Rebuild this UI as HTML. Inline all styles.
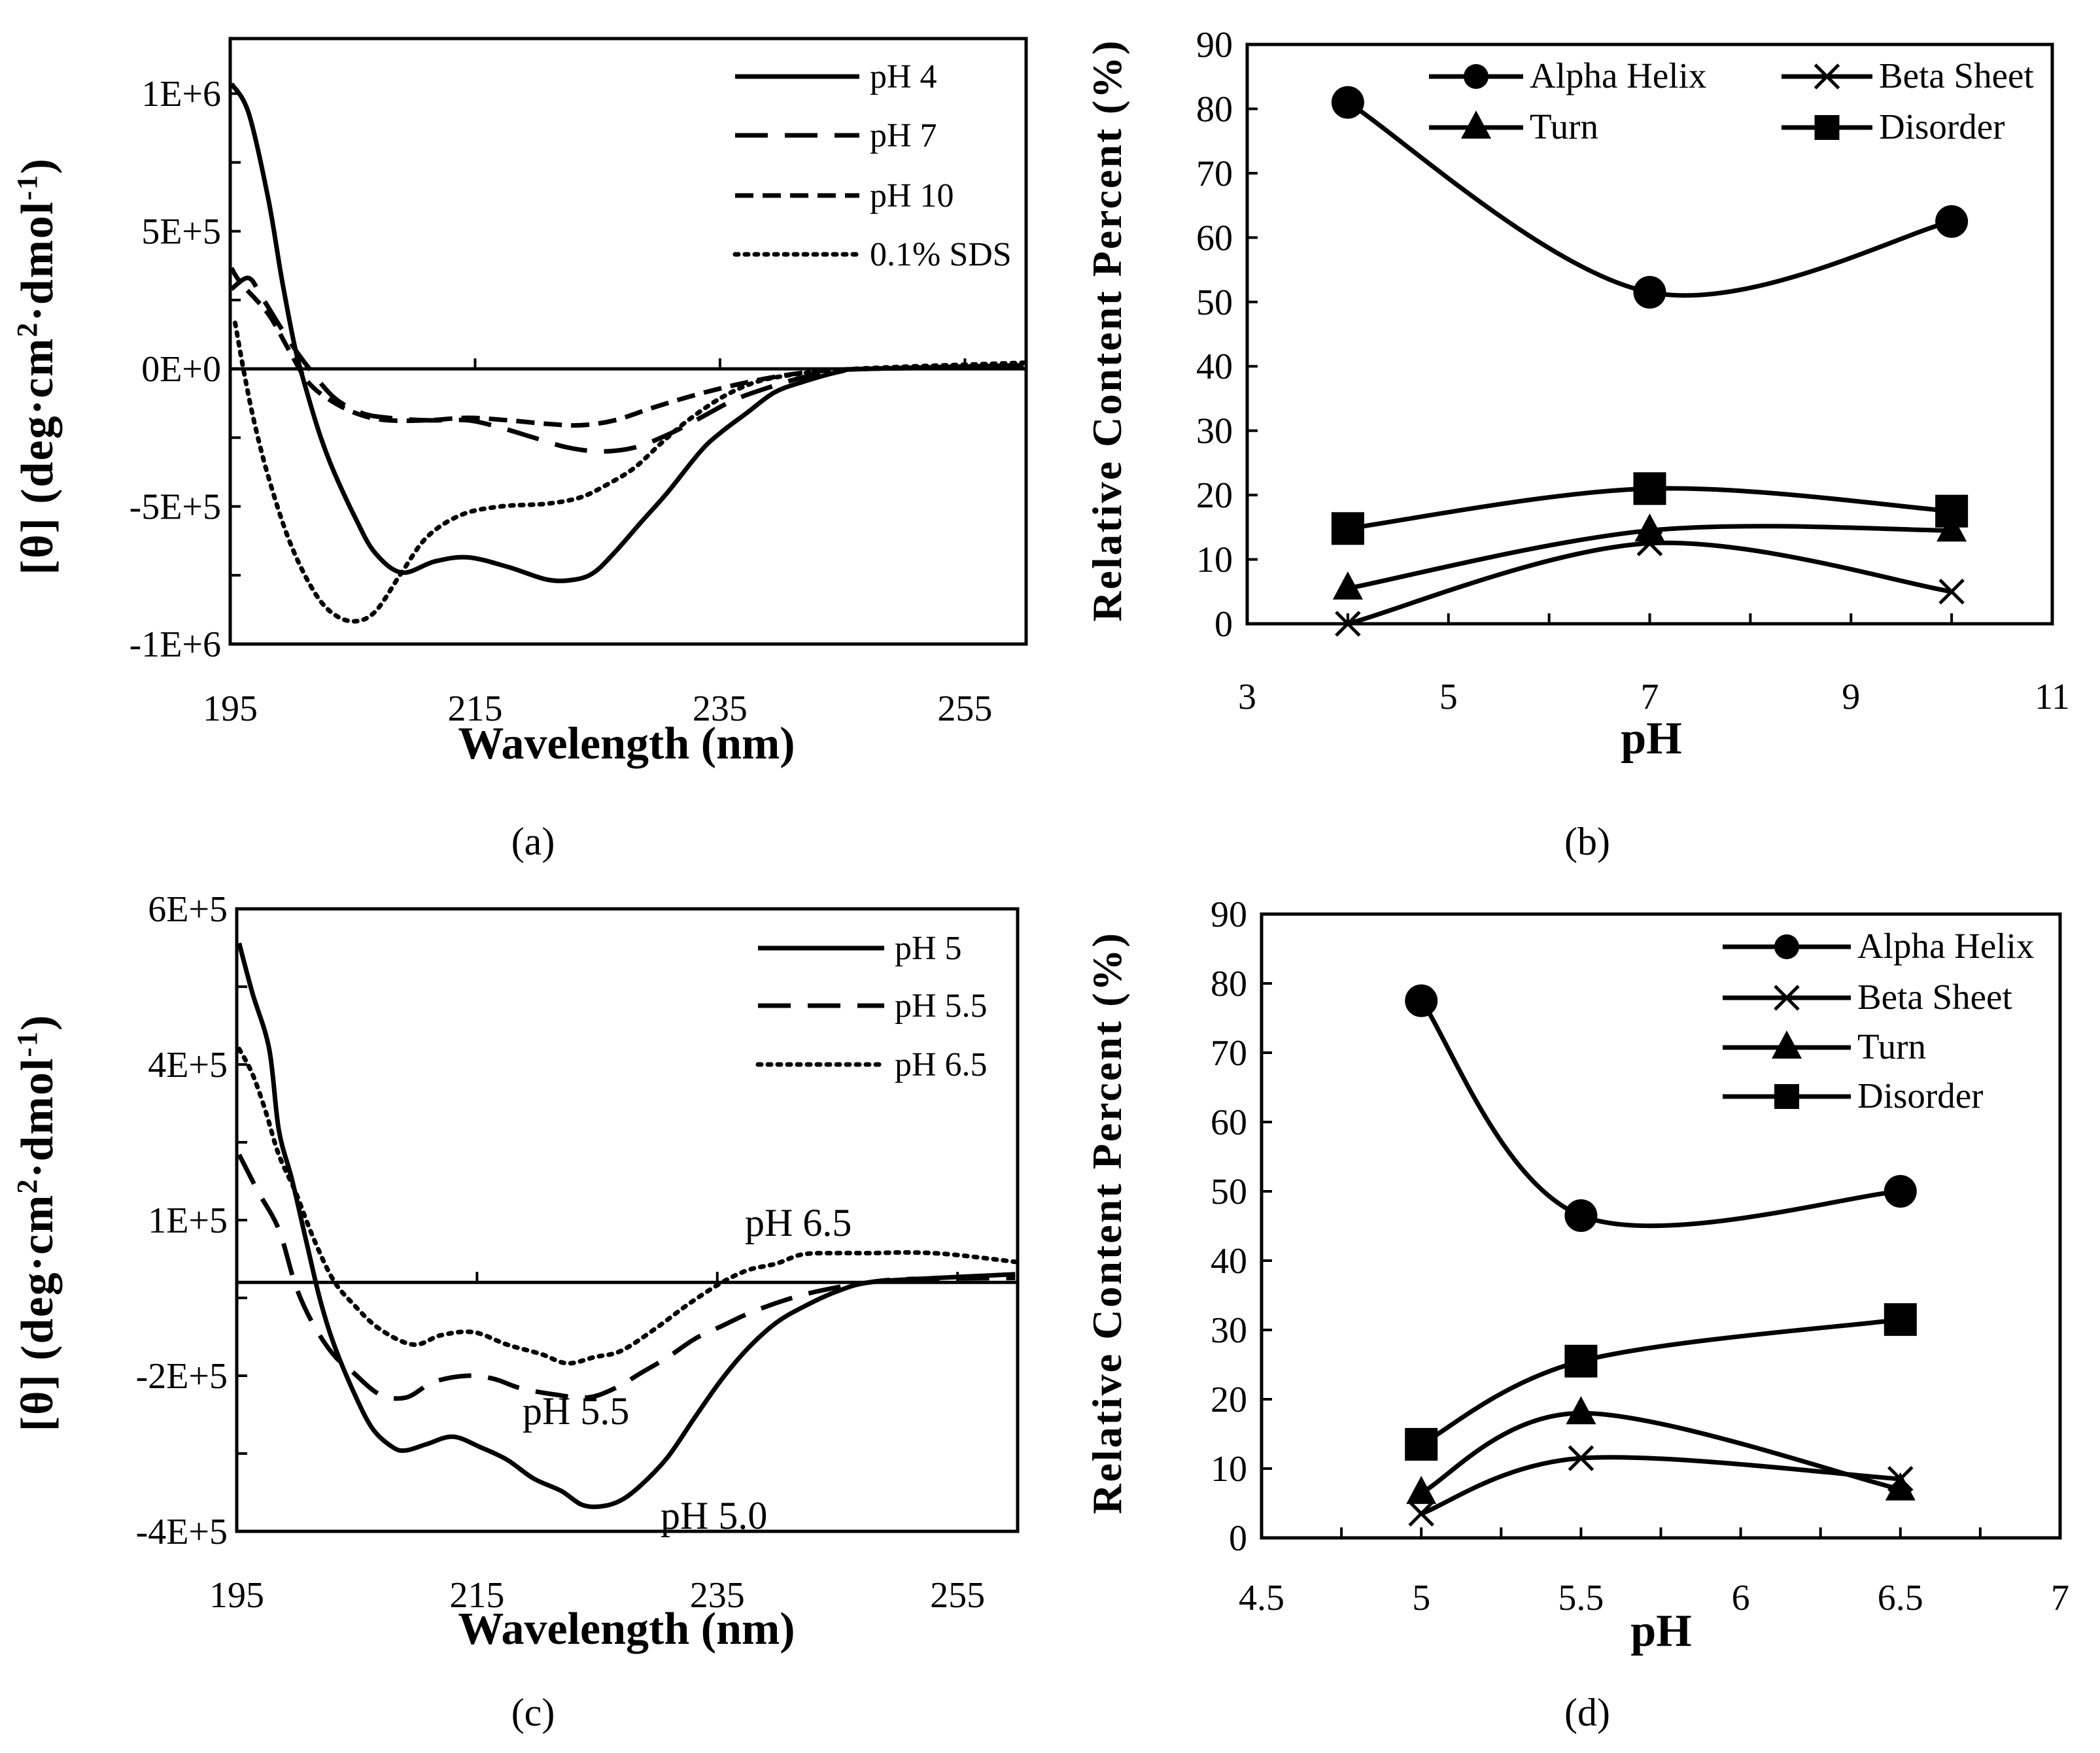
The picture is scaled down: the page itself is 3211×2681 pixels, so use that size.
<!DOCTYPE html>
<html><head><meta charset="utf-8"><style>
html,body{margin:0;padding:0;background:#fff}
svg{display:block}
text{font-family:"Liberation Serif",serif;fill:#000}
</style></head><body>
<svg id="fig" width="3211" height="2681" viewBox="0 0 3211 2681" xmlns="http://www.w3.org/2000/svg"></svg>
<script>
// ---------- Panel (a) data ----------
const aWave4=[195.1,196.5,198.1,199.2,200.3,201.4,202.4,203.5,205.2,206.8,209.0,211.7,214.4,217.7,220.9,223.1,224.7,226.4,228.5,230.7,233.4,235.1,237.2,239.4,241.6,244.8,247.0,259.8];
const aVal4=[1.036,0.93,0.62,0.33,0.076,-0.105,-0.25,-0.377,-0.54,-0.667,-0.74,-0.70,-0.685,-0.72,-0.766,-0.766,-0.74,-0.667,-0.56,-0.45,-0.30,-0.23,-0.16,-0.087,-0.05,-0.01,0,0.013];
const aWave7=[195.1,196.5,197.6,199.7,201.4,203.5,205.7,207.9,211.1,214.4,217.1,219.8,222.6,225.3,228.0,230.7,233.4,236.1,238.9,241.6,244.3,247.0,259.8];
const aVal7=[0.29,0.33,0.26,0.11,0.004,-0.105,-0.16,-0.178,-0.187,-0.187,-0.214,-0.25,-0.286,-0.30,-0.286,-0.24,-0.178,-0.114,-0.069,-0.033,-0.01,0,0.007];
const aWave10=[195.1,195.9,198.1,199.7,201.4,203.5,205.7,207.9,211.1,214.4,217.7,220.9,223.6,226.4,229.6,232.9,236.1,239.4,242.7,247.0,259.8];
const aVal10=[0.366,0.31,0.2,0.076,-0.05,-0.123,-0.168,-0.187,-0.187,-0.178,-0.187,-0.2,-0.205,-0.187,-0.14,-0.096,-0.06,-0.03,-0.01,0,0.009];
const aWaveSDS=[195.4,196.2,197.0,198.1,199.7,201.4,203.0,204.9,206.8,209.0,211.1,213.9,217.1,220.9,223.6,225.8,228.0,230.2,232.3,235.1,237.8,240.5,244.3,249.7,259.8];
const aValSDS=[0.167,-0.03,-0.2,-0.39,-0.61,-0.775,-0.875,-0.917,-0.884,-0.74,-0.61,-0.53,-0.50,-0.49,-0.467,-0.42,-0.36,-0.27,-0.19,-0.105,-0.05,-0.024,-0.005,0.007,0.022];
const aYTicks=["-1E+6","-5E+5","0E+0","5E+5","1E+6"];
const aXTicks=["195","215","235","255"];
// ---------- Panel (b) data ----------
const bPH=[4,7,10];
const bAlpha=[81,51.5,62.5];
const bBeta=[0,12.5,5];
const bTurn=[5.5,14.5,14.5];
const bDisorder=[14.8,21,17.5];
const bXTicks=["3","5","7","9","11"];
const pctTicks=["0","10","20","30","40","50","60","70","80","90"];
// ---------- Panel (c) data ----------
const cWave5=[195.2,196.3,197.7,198.5,199.6,200.8,201.9,203.0,204.7,206.3,208.0,209.1,210.8,213.0,215.3,217.5,219.7,222.0,223.7,225.3,227.0,228.7,230.9,233.2,235.4,237.6,239.9,242.1,244.9,247.7,253.3,259.8];
const cVal5=[5.45,4.65,3.75,2.45,1.65,0.65,-0.25,-0.95,-1.75,-2.35,-2.65,-2.7,-2.6,-2.48,-2.65,-2.85,-3.15,-3.35,-3.57,-3.6,-3.5,-3.25,-2.8,-2.15,-1.55,-1.05,-0.65,-0.4,-0.15,0,0.07,0.13];
const cWave55=[195.2,196.8,198.5,199.9,201.3,203.0,204.7,206.9,209.1,211.4,214.2,216.4,218.6,221.4,224.2,226.5,228.7,230.9,233.2,235.4,237.6,240.4,243.2,246.6,250.5,259.8];
const cVal55=[2.05,1.45,0.85,-0.05,-0.65,-1.15,-1.45,-1.8,-1.85,-1.6,-1.5,-1.55,-1.7,-1.8,-1.85,-1.7,-1.45,-1.2,-0.9,-0.7,-0.5,-0.3,-0.15,-0.03,0.05,0.07];
const cWave65=[195.2,196.3,197.4,198.5,199.9,201.3,203.0,204.7,206.9,209.7,212.0,214.7,217.5,220.3,222.5,224.8,227.0,229.8,232.6,235.4,237.6,239.9,242.1,244.9,247.7,251.0,254.4,259.8];
const cVal65=[3.75,3.35,2.75,2.05,1.45,0.75,0.05,-0.35,-0.75,-1.0,-0.85,-0.8,-1.0,-1.15,-1.3,-1.2,-1.1,-0.75,-0.35,0,0.2,0.3,0.45,0.47,0.47,0.48,0.45,0.33];
const cYTicks=["-4E+5","-2E+5","1E+5","4E+5","6E+5"];
// ---------- Panel (d) data ----------
const dPH=[5,5.5,6.5];
const dAlpha=[77.5,46.5,50];
const dBeta=[3.5,11.5,8.5];
const dTurn=[6.5,18,7];
const dDisorder=[13.5,25.5,31.5];
const dXTicks=["4.5","5","5.5","6","6.5","7"];

const NS="http://www.w3.org/2000/svg";
const svg=document.getElementById('fig');
function mk(tag,attrs,parent){const e=document.createElementNS(NS,tag);for(const k in attrs)e.setAttribute(k,attrs[k]);(parent||svg).appendChild(e);return e;}
function txt(s,x,y,size,anchor,parent,bold){const t=mk('text',{x:x,y:y,'font-size':size,'text-anchor':anchor||'middle'},parent);if(bold)t.setAttribute('font-weight','bold');t.textContent=s;return t;}
function smoothPath(pts){
  if(pts.length<2)return '';
  let d='M'+pts[0][0].toFixed(1)+','+pts[0][1].toFixed(1);
  for(let i=0;i<pts.length-1;i++){
    const p0=pts[i-1]||pts[i],p1=pts[i],p2=pts[i+1],p3=pts[i+2]||pts[i+1];
    const c1=[p1[0]+(p2[0]-p0[0])/6,p1[1]+(p2[1]-p0[1])/6];
    const c2=[p2[0]-(p3[0]-p1[0])/6,p2[1]-(p3[1]-p1[1])/6];
    d+=' C'+c1[0].toFixed(1)+','+c1[1].toFixed(1)+' '+c2[0].toFixed(1)+','+c2[1].toFixed(1)+' '+p2[0].toFixed(1)+','+p2[1].toFixed(1);
  }
  return d;
}
function marker(type,x,y,g){
  let m;
  if(type==='circle'){m=mk('circle',{cx:x,cy:y,r:25,fill:'#000'},g);}
  else if(type==='square'){m=mk('rect',{x:x-25,y:y-25,width:50,height:50,fill:'#000'},g);}
  else if(type==='triangle'){m=mk('polygon',{points:`${x},${y-26} ${x+23},${y+17} ${x-23},${y+17}`,fill:'#000'},g);}
  else {m=mk('path',{d:`M${x-18},${y-18}L${x+18},${y+18}M${x+18},${y-18}L${x-18},${y+18}`,stroke:'#000','stroke-width':5,fill:'none'},g);}
  return m;
}
function box(L,T,R,B,name){const r=mk('rect',{x:L,y:T,width:R-L,height:B-T,fill:'none',stroke:'#000','stroke-width':5});}

function cdPanel(o){
  const g=mk('g',{});
  const X=v=>o.L+(v-o.x0)/(o.x1-o.x0)*(o.R-o.L);
  const Y=v=>o.B-(v-o.y0)/(o.y1-o.y0)*(o.B-o.T);
  box(o.L,o.T,o.R,o.B,o.name+'-plot-area');
  const z=mk('line',{x1:o.L,x2:o.R,y1:Y(0),y2:Y(0),stroke:'#000','stroke-width':5},g);
  
  for(let i=0;;i++){const v=o.y0+i*o.yStep;if(v>o.y1+1e-6)break;
    mk('line',{x1:o.L,x2:o.L+16,y1:Y(v),y2:Y(v),stroke:'#000','stroke-width':4},g);
    if(i%2===0&&o.yTicks[i/2]!==undefined){const t=txt(o.yTicks[i/2],o.L-14,Y(v)+19,56,'end',g);}
  }
  o.xTicks.forEach((s,i)=>{const v=o.x0+i*20;
    mk('line',{x1:X(v),x2:X(v),y1:Y(0),y2:Y(0)-16,stroke:'#000','stroke-width':4},g);
    const t=txt(s,X(v),o.xLabY,56,'middle',g);});
  o.series.forEach(s=>{
    const pts=s.w.map((w,i)=>[X(w),Y(s.v[i]*o.unit)]);
    const p=mk('path',{d:smoothPath(pts),fill:'none',stroke:'#000','stroke-width':7,'stroke-dasharray':s.dash,'stroke-linecap':s.cap||'butt'},g);
    
  });
  o.series.forEach((s,i)=>{const y=o.legY[i];
    const lg=mk('g',{},g);
    mk('line',{x1:o.legX1,x2:o.legX2,y1:y,y2:y,stroke:'#000','stroke-width':7,'stroke-dasharray':s.dash,'stroke-linecap':s.cap||'butt'},lg);
    txt(s.label,o.legX2+16,y+17,52,'start',lg);
  });
  const xt=txt('Wavelength (nm)',o.xtX,o.xtY,70,'middle',g,true);
  const yt=mk('text',{x:0,y:0,'font-size':70,'font-weight':'bold','text-anchor':'middle','letter-spacing':2,transform:`translate(${o.ytX},${o.ytY}) rotate(-90)`},g);
  
  yt.innerHTML='[θ] (deg·cm<tspan dy="-24" font-size="44">2</tspan><tspan dy="24">·dmol</tspan><tspan dy="-24" font-size="44">-1</tspan><tspan dy="24">)</tspan>';
  return {g,X,Y};
}
function ssPanel(o){
  const g=mk('g',{});
  const X=v=>o.L+(v-o.x0)/(o.x1-o.x0)*(o.R-o.L);
  const Y=v=>o.B-v/90*(o.B-o.T);
  box(o.L,o.T,o.R,o.B,o.name+'-plot-area');
  pctTicks.forEach((s,i)=>{const v=i*10;
    mk('line',{x1:o.L,x2:o.L+16,y1:Y(v),y2:Y(v),stroke:'#000','stroke-width':4},g);
    const t=txt(s,o.L-22,Y(v)+19,56,'end',g);});
  for(let v=o.x0;v<=o.x1+1e-9;v+=o.minor){mk('line',{x1:X(v),x2:X(v),y1:o.B,y2:o.B-16,stroke:'#000','stroke-width':4},g);}
  o.xTicks.forEach((s,i)=>{const v=o.x0+i*o.major;
    const t=txt(s,X(v),o.xLabY,56,'middle',g);});
  o.series.forEach(s=>{
    const sg=mk('g',{},g);
    const pts=o.xs.map((x,i)=>[X(x),Y(s.v[i])]);
    const p=mk('path',{d:smoothPath(pts),fill:'none',stroke:'#000','stroke-width':7},sg);
    
    pts.forEach(pt=>{const m=marker(s.m,pt[0],pt[1],sg);
      
      });
  });
  o.legend.forEach((e,i)=>{const s=o.series[i];
    const lg=mk('g',{},g);
    mk('line',{x1:e[0],x2:e[1],y1:e[2],y2:e[2],stroke:'#000','stroke-width':7},lg);
    const m=marker(s.m,(e[0]+e[1])/2,e[2],lg);
    if(s.m==='circle')m.setAttribute('r',19);
    if(s.m==='square'){m.setAttribute('x',(e[0]+e[1])/2-19);m.setAttribute('y',e[2]-19);m.setAttribute('width',38);m.setAttribute('height',38);}
    txt(s.label,e[1]+10,e[2]+17,55,'start',lg);
  });
  const xt=txt('pH',o.xtX,o.xtY,70,'middle',g,true);
  const yt=mk('text',{x:0,y:0,'font-size':64,'font-weight':'bold','text-anchor':'middle','letter-spacing':3,transform:`translate(${o.ytX},${o.ytY}) rotate(-90)`},g);
  yt.textContent='Relative Content Percent (%)';
}

cdPanel({name:'panel-a',L:352,R:1569,T:59,B:985,x0:195,x1:260,y0:-1e6,y1:1.2e6,yStep:2.5e5,unit:1e6,
  yTicks:aYTicks,xTicks:aXTicks,xLabY:1102,
  series:[
    {name:'ph4-curve',label:'pH 4',w:aWave4,v:aVal4,dash:'none'},
    {name:'ph7-curve',label:'pH 7',w:aWave7,v:aVal7,dash:'50 26'},
    {name:'ph10-curve',label:'pH 10',w:aWave10,v:aVal10,dash:'28 14'},
    {name:'sds-curve',label:'0.1% SDS',w:aWaveSDS,v:aValSDS,dash:'5 10',cap:'round'}],
  legX1:1124,legX2:1314,legY:[117,207,299,389],
  xtX:958,xtY:1160,ytX:80,ytY:560});
cdPanel({name:'panel-c',L:362,R:1556,T:1390,B:2342,x0:195,x1:260,y0:-4e5,y1:6e5,yStep:1.25e5,unit:1e5,
  yTicks:cYTicks,xTicks:aXTicks,xLabY:2458,
  series:[
    {name:'ph5-curve',label:'pH 5',w:cWave5,v:cVal5,dash:'none'},
    {name:'ph5.5-curve',label:'pH 5.5',w:cWave55,v:cVal55,dash:'50 26'},
    {name:'ph6.5-curve',label:'pH 6.5',w:cWave65,v:cVal65,dash:'5 10',cap:'round'}],
  legX1:1159,legX2:1352,legY:[1450,1538,1628],
  xtX:958,xtY:2514,ytX:80,ytY:1870});
[['pH 6.5',1139,1890],['pH 5.5',799,2178],['pH 5.0',1010,2338]].forEach(a=>{
  const t=txt(a[0],a[1],a[2],60,'start');
  
  });
ssPanel({name:'panel-b',L:1907,R:3138,T:68,B:954,x0:3,x1:11,major:2,minor:1,xTicks:bXTicks,xLabY:1084,xs:bPH,
  series:[
    {name:'alpha-helix',label:'Alpha Helix',v:bAlpha,m:'circle'},
    {name:'beta-sheet',label:'Beta Sheet',v:bBeta,m:'x'},
    {name:'turn',label:'Turn',v:bTurn,m:'triangle'},
    {name:'disorder',label:'Disorder',v:bDisorder,m:'square'}],
  legend:[[2185,2329,117],[2724,2863,117],[2185,2329,195],[2724,2863,195]],
  xtX:2525,xtY:1152,ytX:1714,ytY:505});
ssPanel({name:'panel-d',L:1929,R:3150,T:1398,B:2352,x0:4.5,x1:7,major:0.5,minor:0.25,xTicks:dXTicks,xLabY:2462,xs:dPH,
  series:[
    {name:'alpha-helix',label:'Alpha Helix',v:dAlpha,m:'circle'},
    {name:'beta-sheet',label:'Beta Sheet',v:dBeta,m:'x'},
    {name:'turn',label:'Turn',v:dTurn,m:'triangle'},
    {name:'disorder',label:'Disorder',v:dDisorder,m:'square'}],
  legend:[[2634,2830,1448],[2634,2830,1526],[2634,2830,1602],[2634,2830,1677]],
  xtX:2540,xtY:2517,ytX:1714,ytY:1870});
[['(a)',815,1307],['(b)',2427,1307],['(c)',815,2639],['(d)',2427,2639]].forEach(a=>{
  const t=txt(a[0],a[1],a[2],60,'middle');
  
  });
</script>
</body></html>
